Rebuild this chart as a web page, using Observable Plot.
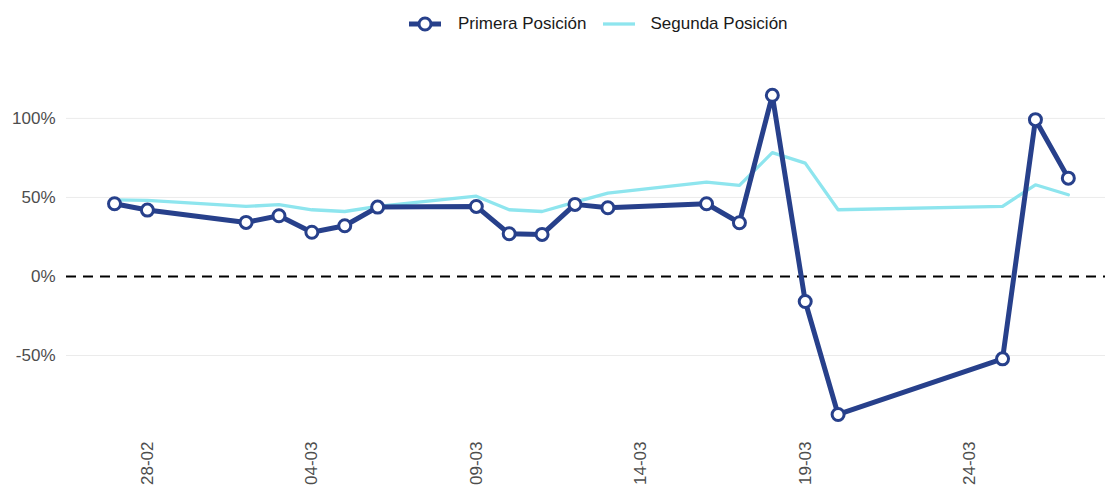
<!DOCTYPE html>
<html><head><meta charset="utf-8">
<script src="https://cdn.jsdelivr.net/npm/d3@7"></script>
<script src="https://cdn.jsdelivr.net/npm/@observablehq/plot@0.6"></script>
<style>
body{margin:0;background:#fff;font-family:"Liberation Sans",Arial,sans-serif;}
#legend{height:48px;display:flex;align-items:center;padding-left:409px;font-size:17px;color:#1a1a1a;}
#legend .item{display:flex;align-items:center;}
#legend svg{display:block;}
</style></head><body>
<div id="legend"></div><div id="chart"></div>
<script>
const fechas = ["2020-02-27","2020-02-28","2020-03-02","2020-03-03","2020-03-04","2020-03-05","2020-03-06",
  "2020-03-09","2020-03-10","2020-03-11","2020-03-12","2020-03-13","2020-03-16","2020-03-17","2020-03-18",
  "2020-03-19","2020-03-20","2020-03-25","2020-03-26","2020-03-27"];
const primera = [46.0,42.0,34.2,38.4,28.0,32.1,43.9,44.3,27.0,26.6,45.6,43.5,46.0,34.0,114.6,-15.8,-87.3,-52.1,99.2,62.2];
const segunda = [48.5,48.1,44.3,45.4,42.2,41.1,44.3,50.8,42.2,41.1,47.0,52.7,59.7,57.6,78.3,71.7,42.2,44.3,58.0,51.7];
const series = ["Primera Posición","Segunda Posición"];
const colores = ["#27408B","#8EE5EE"];
const yTicks = [-50,0,50,100];
const xTicks = ["2020-02-28","2020-03-04","2020-03-09","2020-03-14","2020-03-19","2020-03-24"];

const parse = d3.utcParse("%Y-%m-%d");
const rows = fechas.map((f,i)=>({date: parse(f), primera: primera[i], segunda: segunda[i]}));
const day = 864e5;
const x0 = new Date(+rows[0].date - 1.46*day);
const x1 = new Date(+rows[rows.length-1].date + 1.13*day);

// legend
const leg = document.getElementById("legend");
leg.innerHTML =
  `<div class="item"><svg width="32" height="16"><line x1="0" y1="8" x2="32" y2="8" stroke="${colores[0]}" stroke-width="5"/><circle cx="16" cy="8" r="6" fill="#fff" stroke="${colores[0]}" stroke-width="3"/></svg><span style="margin-left:17px">${series[0]}</span></div>` +
  `<div class="item" style="margin-left:16px"><svg width="32" height="16"><line x1="0" y1="8" x2="32" y2="8" stroke="${colores[1]}" stroke-width="3.3"/></svg><span style="margin-left:16px">${series[1]}</span></div>`;

const chart = Plot.plot({
  width: 1111, height: 438,
  marginLeft: 66, marginRight: 6, marginTop: 31, marginBottom: 57,
  style: {fontFamily: "Liberation Sans, Arial, sans-serif", fontSize: "17px", color: "#4d4d4d", background: "#fff"},
  x: {type: "utc", domain: [x0, x1], ticks: xTicks.map(parse), tickFormat: d3.utcFormat("%d-%m"),
      tickRotate: -90, tickSize: 0, tickPadding: 12, label: null},
  y: {domain: [-96.8, 124.6], ticks: yTicks, tickFormat: d => d + "%", tickSize: 0, tickPadding: 11, label: null},
  marks: [
    Plot.gridY(yTicks.filter(d => d !== 0), {stroke: "#ebebeb", strokeOpacity: 1, strokeWidth: 1}),
    Plot.ruleY([0], {stroke: "#000", strokeWidth: 2, strokeDasharray: "10,7"}),
    Plot.line(rows, {x: "date", y: "segunda", stroke: colores[1], strokeWidth: 3.3}),
    Plot.line(rows, {x: "date", y: "primera", stroke: colores[0], strokeWidth: 5}),
    Plot.dot(rows, {x: "date", y: "primera", r: 6, fill: "#fff", stroke: colores[0], strokeWidth: 3})
  ]
});
document.getElementById("chart").appendChild(chart);
</script>
</body></html>
